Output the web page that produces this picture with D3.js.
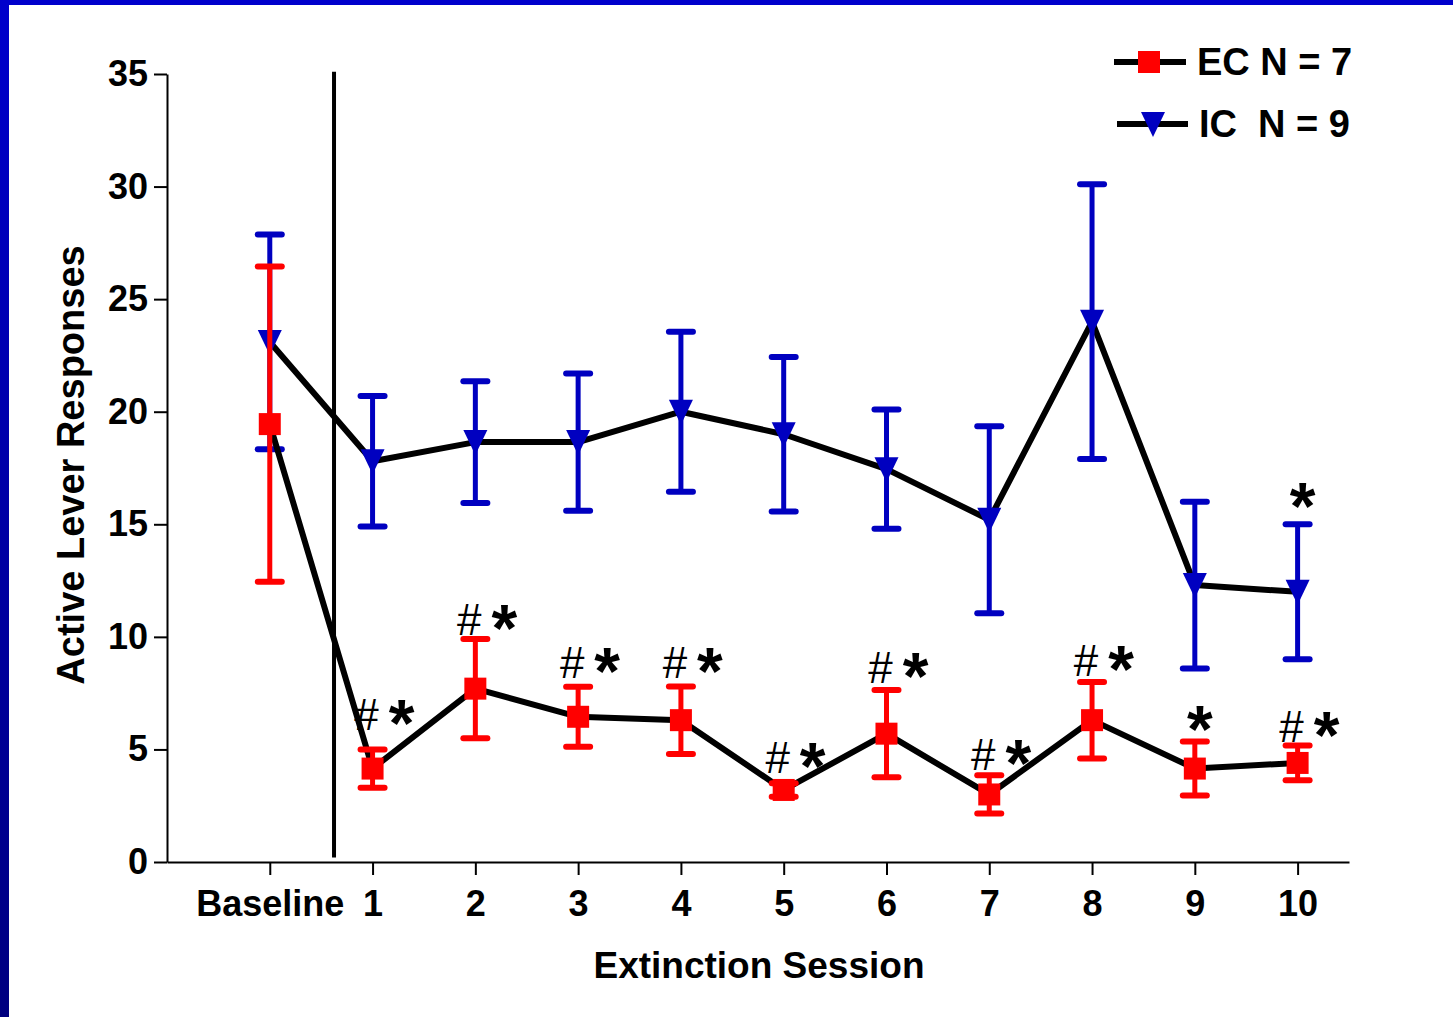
<!DOCTYPE html>
<html lang="en">
  <head>
    <meta charset="UTF-8" />
    <title>Active Lever Responses</title>
    <script src="https://cdn.jsdelivr.net/npm/d3@7"></script>
    <style>
      html, body { margin: 0; padding: 0; overflow: hidden; }
      body { width: 1453px; height: 1017px; background: linear-gradient(#0000cc, #000080); }
      svg { display: block; }
      text { font-family: 'Liberation Sans', Arial, sans-serif; }
    </style>
  </head>
  <body>
    <div id="chart"></div>
    <script>
      // sessions: 0 = Baseline, 1..10 = extinction sessions
      const categories = ['Baseline', '1', '2', '3', '4', '5', '6', '7', '8', '9', '10']
      const yTicks = [0, 5, 10, 15, 20, 25, 30, 35]

      // EC N = 7 (mean, sem)
      const ecMean = [19.45, 4.15, 7.7, 6.45, 6.3, 3.2, 5.7, 3.0, 6.3, 4.15, 4.4]
      const ecSem = [7.0, 0.85, 2.2, 1.33, 1.5, 0.3, 1.94, 0.85, 1.7, 1.2, 0.77]

      // IC N = 9 (mean, sem)
      const icMean = [23.1, 17.8, 18.65, 18.65, 20.0, 19.0, 17.45, 15.2, 24.0, 12.3, 12.0]
      const icSem = [4.77, 2.9, 2.7, 3.05, 3.55, 3.43, 2.65, 4.15, 6.1, 3.7, 3.0]

      // significance marks: session, text, y value of the mark baseline
      const markSession = [1, 2, 3, 4, 5, 6, 7, 8, 9, 10, 10]
      const markText = ['#*', '#*', '#*', '#*', '#*', '#*', '#*', '#*', '*', '#*', '*']
      const markValue = [5.86, 10.08, 8.17, 8.17, 3.95, 7.95, 4.09, 8.26, 5.6, 5.33, 15.5]

      const separatorAt = 0.625

      const W = 1453
      const H = 1017
      const red = '#ff0000'
      const blue = '#0000c0'

      const svg = d3.select('#chart').append('svg').attr('width', W).attr('height', H)
      svg.append('rect').attr('x', 9).attr('y', 5).attr('width', W - 9).attr('height', H - 5).attr('fill', '#fff')

      const x = d3.scaleLinear().domain([-1, 10.5]).range([167, 1349])
      const y = d3.scaleLinear().domain([0, 35]).range([862, 74])

      const line = d3
        .line()
        .x((d, i) => x(i))
        .y(d => y(d))

      function series(mean, sem, color, marker) {
        const g = svg.append('g')
        g.append('path')
          .attr('d', line(mean))
          .attr('fill', 'none')
          .attr('stroke', '#000')
          .attr('stroke-width', 6)
          .attr('stroke-linejoin', 'round')

        const eb = g
          .selectAll('.eb')
          .data(mean.map((m, i) => ({ i, m, s: sem[i] })))
          .join('g')
          .attr('stroke', color)
        eb.append('line')
          .attr('x1', d => x(d.i))
          .attr('x2', d => x(d.i))
          .attr('y1', d => y(d.m + d.s))
          .attr('y2', d => y(d.m - d.s))
          .attr('stroke-width', 5)
        eb.selectAll('.cap')
          .data(d => [d.m + d.s, d.m - d.s].map(v => ({ i: d.i, v })))
          .join('line')
          .attr('x1', d => x(d.i) - 12)
          .attr('x2', d => x(d.i) + 12)
          .attr('y1', d => y(d.v))
          .attr('y2', d => y(d.v))
          .attr('stroke-width', 6)
          .attr('stroke-linecap', 'round')

        g.selectAll('.mk')
          .data(mean)
          .join('path')
          .attr('transform', (d, i) => `translate(${x(i)},${y(d)})`)
          .attr('d', marker)
          .attr('fill', color)
      }

      const square = 'M-11,-11H11V11H-11Z'
      const triangle = 'M-12,-12H12L0,13Z'

      series(icMean, icSem, blue, triangle)
      series(ecMean, ecSem, red, square)

      // significance marks
      const marks = svg.append('g')
      markSession.forEach((s, k) => {
        const t = markText[k]
        const by = y(markValue[k])
        const both = t.includes('#')
        if (both) {
          marks.append('text')
            .attr('x', x(s) - 6)
            .attr('y', by)
            .attr('text-anchor', 'middle')
            .attr('font-size', 44)
            .text('#')
        }
        marks.append('text')
          .attr('x', x(s) + (both ? 29 : 5))
          .attr('y', by + 16)
          .attr('text-anchor', 'middle')
          .attr('font-size', 66)
          .attr('font-weight', 'bold')
          .text('*')
      })

      // separator between baseline and extinction
      svg.append('line')
        .attr('x1', x(separatorAt))
        .attr('x2', x(separatorAt))
        .attr('y1', y(35.1))
        .attr('y2', y(0.2))
        .attr('stroke', '#000')
        .attr('stroke-width', 4)

      // axes
      const yAxis = svg
        .append('g')
        .attr('transform', `translate(${x(-1)},0)`)
        .call(d3.axisLeft(y).tickValues(yTicks).tickSize(13).tickSizeOuter(0).tickPadding(6))
      const xAxis = svg
        .append('g')
        .attr('transform', `translate(0,${y(0)})`)
        .call(
          d3
            .axisBottom(x)
            .tickValues(d3.range(categories.length))
            .tickFormat(i => categories[i])
            .tickSize(13)
            .tickSizeOuter(0)
            .tickPadding(15)
        )
      ;[yAxis, xAxis].forEach(a => {
        a.selectAll('path, line').attr('stroke', '#000').attr('stroke-width', 2)
        a.selectAll('text')
          .attr('font-family', "'Liberation Sans', Arial, sans-serif")
          .attr('font-size', 36)
          .attr('font-weight', 'bold')
          .attr('fill', '#000')
      })

      svg.append('text')
        .attr('transform', 'translate(84,465) rotate(-90)')
        .attr('text-anchor', 'middle')
        .attr('font-size', 38)
        .attr('font-weight', 'bold')
        .text('Active Lever Responses')

      svg.append('text')
        .attr('x', 759)
        .attr('y', 978)
        .attr('text-anchor', 'middle')
        .attr('font-size', 37)
        .attr('font-weight', 'bold')
        .text('Extinction Session')

      // legend
      const legend = [
        { label: 'EC N = 7', color: red, marker: square, x1: 1114, x2: 1186, cx: 1149, y: 62, tx: 1197 },
        { label: 'IC  N = 9', color: blue, marker: triangle, x1: 1117, x2: 1188, cx: 1153, y: 124, tx: 1199 }
      ]
      const lg = svg.append('g').selectAll('g').data(legend).join('g')
      lg.append('line')
        .attr('x1', d => d.x1)
        .attr('x2', d => d.x2)
        .attr('y1', d => d.y)
        .attr('y2', d => d.y)
        .attr('stroke', '#000')
        .attr('stroke-width', 6)
      lg.append('path')
        .attr('transform', d => `translate(${d.cx},${d.y})`)
        .attr('d', d => d.marker)
        .attr('fill', d => d.color)
      lg.append('text')
        .attr('x', d => d.tx)
        .attr('y', d => d.y + 13)
        .attr('font-size', 38)
        .attr('font-weight', 'bold')
        .style('white-space', 'pre')
        .text(d => d.label)
    </script>
  </body>
</html>
